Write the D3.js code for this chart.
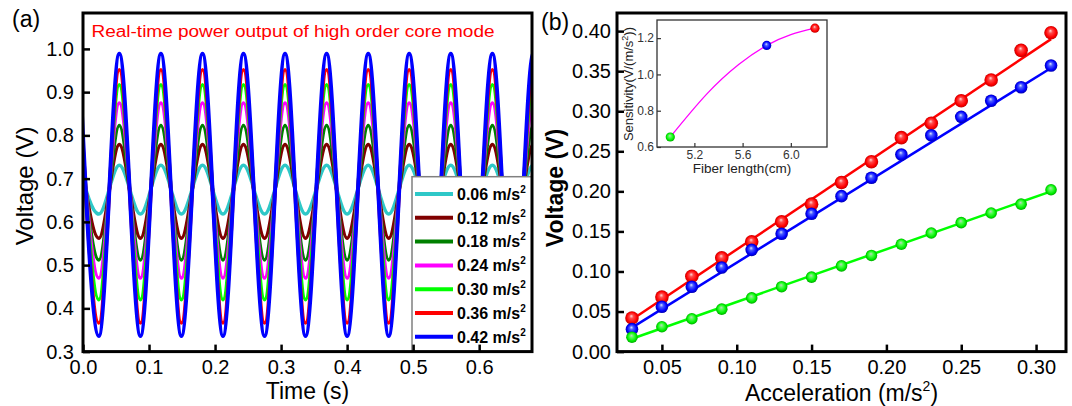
<!DOCTYPE html>
<html>
<head>
<meta charset="utf-8">
<script src="https://cdn.jsdelivr.net/npm/d3@7"></script>
<style>
  body { margin: 0; background: #fff; }
  svg { display: block; }
  text { font-family: "Liberation Sans", Arial, sans-serif; }
</style>
</head>
<body>
<script>
'use strict';

// ---- panel (a): real-time output (extrema of each trace)
const peakTimes   = [-0.006, 0.055, 0.118, 0.181, 0.243, 0.306, 0.369, 0.432, 0.494, 0.557, 0.620, 0.682];
const troughTimes = [0.024, 0.087, 0.149, 0.212, 0.275, 0.337, 0.400, 0.463, 0.526, 0.588, 0.651, 0.714];
const accelLabels = ["0.06", "0.12", "0.18", "0.24", "0.30", "0.36", "0.42"];
const peakVolt    = [0.731, 0.779, 0.823, 0.875, 0.917, 0.952, 0.989];
const troughVolt  = [0.618, 0.562, 0.512, 0.470, 0.420, 0.366, 0.336];
const timeTicks   = [0.0, 0.1, 0.2, 0.3, 0.4, 0.5, 0.6];
const voltTicksA  = [0.3, 0.4, 0.5, 0.6, 0.7, 0.8, 0.9, 1.0];

// ---- panel (b): voltage vs acceleration
const accel     = [0.03, 0.05, 0.07, 0.09, 0.11, 0.13, 0.15, 0.17, 0.19, 0.21, 0.23, 0.25, 0.27, 0.29, 0.31];
const voltRed   = [0.042, 0.068, 0.094, 0.117, 0.137, 0.162, 0.184, 0.211, 0.237, 0.267, 0.285, 0.313, 0.339, 0.376, 0.398];
const voltBlue  = [0.028, 0.056, 0.081, 0.105, 0.127, 0.147, 0.172, 0.194, 0.217, 0.246, 0.270, 0.293, 0.313, 0.330, 0.357];
const voltGreen = [0.018, 0.031, 0.041, 0.053, 0.067, 0.081, 0.093, 0.107, 0.120, 0.134, 0.148, 0.161, 0.173, 0.184, 0.202];
const fitRed    = [[0.03, 0.040], [0.31, 0.390]];
const fitBlue   = [[0.03, 0.030], [0.31, 0.354]];
const fitGreen  = [[0.03, 0.016], [0.31, 0.200]];
const accelTicks = [0.05, 0.10, 0.15, 0.20, 0.25, 0.30];
const voltTicksB = [0.00, 0.05, 0.10, 0.15, 0.20, 0.25, 0.30, 0.35, 0.40];

// ---- inset: sensitivity vs fiber length
const fiberLength = [5.0, 5.8, 6.2];
const sensitivity = [0.655, 1.16, 1.255];
const fitCurveX   = [5.0, 5.3, 5.57, 5.8, 6.0, 6.2];
const fitCurveY   = [0.655, 0.89, 1.056, 1.16, 1.22, 1.255];
const fiberTicks  = [5.2, 5.6, 6.0];
const sensTicks   = [0.6, 0.8, 1.0, 1.2];

const waveColors = ["#2ec8c8", "#800000", "#008000", "#ff00ff", "#00ff00", "#ff0000", "#0000ff"];

const svg = d3.select("body").append("svg")
    .attr("width", 1072)
    .attr("height", 406);

const defs = svg.append("defs");

function ballGradient(id, hi, mid, base, edge) {
    const g = defs.append("radialGradient").attr("id", id)
        .attr("cx", "50%").attr("cy", "50%").attr("r", "50%")
        .attr("fx", "45%").attr("fy", "35%");
    g.append("stop").attr("offset", "0%").attr("stop-color", hi);
    g.append("stop").attr("offset", "30%").attr("stop-color", mid);
    g.append("stop").attr("offset", "75%").attr("stop-color", base);
    g.append("stop").attr("offset", "100%").attr("stop-color", edge);
}
ballGradient("ballRed", "#ffd8d8", "#ff4a4a", "#ff0000", "#c00000");
ballGradient("ballBlue", "#dde4ff", "#4a5cff", "#0000ff", "#0000b0");
ballGradient("ballGreen", "#c8c8c8", "#55ff55", "#00ee00", "#00a800");

function styleAxis(g, size) {
    g.select(".domain").remove();
    g.selectAll(".tick line").attr("stroke", "#000").attr("stroke-width", 2.5);
    g.selectAll(".tick text").attr("font-size", size).attr("fill", "#000")
        .attr("font-family", "'Liberation Sans', Arial, sans-serif");
}

// ================= panel (a)
const A = {left: 83, right: 532, top: 13, bottom: 351.6};
const xA = d3.scaleLinear().domain([0, 0.68]).range([A.left, A.right]);
const yA = d3.scaleLinear().domain([0.3, 1.083]).range([A.bottom, A.top]);

defs.append("clipPath").attr("id", "clipA")
    .append("rect")
    .attr("x", A.left).attr("y", A.top)
    .attr("width", A.right - A.left).attr("height", A.bottom - A.top);

const waveLine = d3.line()
    .x(d => xA(d[0]))
    .y(d => yA(d[1]))
    .curve(d3.curveMonotoneX);

const waves = svg.append("g").attr("clip-path", "url(#clipA)");
accelLabels.forEach((lab, i) => {
    let pts = peakTimes.map(t => [t, peakVolt[i]])
        .concat(troughTimes.map(t => [t, troughVolt[i]]));
    pts.sort((a, b) => a[0] - b[0]);
    waves.append("path")
        .attr("d", waveLine(pts))
        .attr("fill", "none")
        .attr("stroke", waveColors[i])
        .attr("stroke-width", i == 6 ? 4 : 3.5);
});

// legend
const leg = svg.append("g");
leg.append("rect")
    .attr("x", 412).attr("y", 176.7)
    .attr("width", A.right - 412).attr("height", A.bottom - 176.7)
    .attr("fill", "#fff").attr("stroke", "#808080").attr("stroke-width", 1.5);
accelLabels.forEach((lab, i) => {
    const y = 194 + i * 23.8;
    leg.append("line")
        .attr("x1", 415).attr("x2", 453).attr("y1", y).attr("y2", y)
        .attr("stroke", waveColors[i]).attr("stroke-width", 4);
    const t = leg.append("text")
        .attr("x", 457).attr("y", y + 5.8)
        .attr("font-size", 16).attr("font-weight", "bold");
    t.append("tspan").text(lab + " m/s");
    t.append("tspan").attr("dy", -7).attr("font-size", 10).text("2");
});

svg.append("g")
    .attr("transform", "translate(0," + A.bottom + ")")
    .call(d3.axisBottom(xA).tickValues(timeTicks).tickFormat(d3.format(".1f"))
        .tickSizeInner(-7).tickSizeOuter(0).tickPadding(8))
    .call(g => styleAxis(g, 20));

svg.append("g")
    .attr("transform", "translate(" + A.left + ",0)")
    .call(d3.axisLeft(yA).tickValues(voltTicksA).tickFormat(d3.format(".1f"))
        .tickSizeInner(-7).tickSizeOuter(0).tickPadding(9))
    .call(g => styleAxis(g, 20));

svg.append("rect")
    .attr("x", A.left).attr("y", A.top)
    .attr("width", A.right - A.left).attr("height", A.bottom - A.top)
    .attr("fill", "none").attr("stroke", "#000").attr("stroke-width", 3);

svg.append("text")
    .attr("x", 91.5).attr("y", 36.5)
    .attr("font-family", "'DejaVu Sans', Verdana, sans-serif")
    .attr("font-size", 16).attr("fill", "#ff0000")
    .attr("textLength", 403).attr("lengthAdjust", "spacingAndGlyphs")
    .text("Real-time power output of high order core mode");

svg.append("text").attr("x", 12).attr("y", 27).attr("font-size", 23).text("(a)");

svg.append("text")
    .attr("transform", "translate(33,186) rotate(-90)")
    .attr("text-anchor", "middle").attr("font-size", 24)
    .text("Voltage (V)");

svg.append("text")
    .attr("x", (A.left + A.right) / 2).attr("y", 399)
    .attr("text-anchor", "middle").attr("font-size", 23)
    .text("Time (s)");

// ================= panel (b)
const B = {left: 617, right: 1066, top: 13, bottom: 351.6};
const xB = d3.scaleLinear().domain([0.02, 0.32]).range([B.left, B.right]);
const yB = d3.scaleLinear().domain([0, 0.4226]).range([B.bottom, B.top]);

const fitLine = d3.line().x(d => xB(d[0])).y(d => yB(d[1]));

const seriesB = [
    {v: voltRed, fit: fitRed, color: "#ff0000", grad: "ballRed", r: 6.8},
    {v: voltBlue, fit: fitBlue, color: "#0000ff", grad: "ballBlue", r: 6.3},
    {v: voltGreen, fit: fitGreen, color: "#00ff00", grad: "ballGreen", r: 5.8}
];

seriesB.forEach(s => {
    svg.append("path")
        .attr("d", fitLine(s.fit))
        .attr("fill", "none").attr("stroke", s.color).attr("stroke-width", 2.5);
});
seriesB.forEach(s => {
    svg.append("g").selectAll("circle")
        .data(accel.map((a, i) => [a, s.v[i]]))
        .enter().append("circle")
        .attr("cx", d => xB(d[0]))
        .attr("cy", d => yB(d[1]))
        .attr("r", s.r)
        .attr("fill", "url(#" + s.grad + ")");
});

svg.append("g")
    .attr("transform", "translate(0," + B.bottom + ")")
    .call(d3.axisBottom(xB).tickValues(accelTicks).tickFormat(d3.format(".2f"))
        .tickSizeInner(-7).tickSizeOuter(0).tickPadding(8))
    .call(g => styleAxis(g, 20));

svg.append("g")
    .attr("transform", "translate(" + B.left + ",0)")
    .call(d3.axisLeft(yB).tickValues(voltTicksB).tickFormat(d3.format(".2f"))
        .tickSizeInner(-7).tickSizeOuter(0).tickPadding(6))
    .call(g => styleAxis(g, 20));

svg.append("rect")
    .attr("x", B.left).attr("y", B.top)
    .attr("width", B.right - B.left).attr("height", B.bottom - B.top)
    .attr("fill", "none").attr("stroke", "#000").attr("stroke-width", 3);

svg.append("text").attr("x", 541).attr("y", 30).attr("font-size", 23).text("(b)");

svg.append("text")
    .attr("transform", "translate(563,188) rotate(-90)")
    .attr("text-anchor", "middle").attr("font-size", 23).attr("font-weight", "bold")
    .text("Voltage (V)");

const accTitle = svg.append("text")
    .attr("x", (B.left + B.right) / 2).attr("y", 401)
    .attr("text-anchor", "middle").attr("font-size", 23);
accTitle.append("tspan").text("Acceleration (m/s");
accTitle.append("tspan").attr("dy", -10).attr("font-size", 14).text("2");
accTitle.append("tspan").attr("dy", 10).text(")");

// ================= inset
const C = {left: 657, right: 827, top: 20, bottom: 147};
const xC = d3.scaleLinear().domain([4.89, 6.3]).range([C.left, C.right]);
const yC = d3.scaleLinear().domain([0.6, 1.3]).range([C.bottom, C.top]);

svg.append("rect")
    .attr("x", C.left).attr("y", C.top)
    .attr("width", C.right - C.left).attr("height", C.bottom - C.top)
    .attr("fill", "#fff");

const fitCurve = d3.line()
    .x((d, i) => xC(fitCurveX[i]))
    .y(d => yC(d))
    .curve(d3.curveNatural);
svg.append("path")
    .attr("d", fitCurve(fitCurveY))
    .attr("fill", "none").attr("stroke", "#ff00ff").attr("stroke-width", 1.3);

const insetGrad = ["ballGreen", "ballBlue", "ballRed"];
svg.append("g").selectAll("circle")
    .data(fiberLength)
    .enter().append("circle")
    .attr("cx", d => xC(d))
    .attr("cy", (d, i) => yC(sensitivity[i]))
    .attr("r", 4.6)
    .attr("fill", (d, i) => "url(#" + insetGrad[i] + ")");

function styleInset(g) {
    g.select(".domain").remove();
    g.selectAll(".tick line").attr("stroke", "#333").attr("stroke-width", 1.2);
    g.selectAll(".tick text").attr("font-size", 12).attr("fill", "#333")
        .attr("font-family", "'Liberation Sans', Arial, sans-serif");
}

svg.append("g")
    .attr("transform", "translate(0," + C.bottom + ")")
    .call(d3.axisBottom(xC).tickValues(fiberTicks).tickFormat(d3.format(".1f"))
        .tickSizeInner(-4).tickSizeOuter(0).tickPadding(3))
    .call(styleInset);

svg.append("g")
    .attr("transform", "translate(" + C.left + ",0)")
    .call(d3.axisLeft(yC).tickValues(sensTicks).tickFormat(d3.format(".1f"))
        .tickSizeInner(-4).tickSizeOuter(0).tickPadding(3))
    .call(styleInset);

svg.append("rect")
    .attr("x", C.left).attr("y", C.top)
    .attr("width", C.right - C.left).attr("height", C.bottom - C.top)
    .attr("fill", "none").attr("stroke", "#333").attr("stroke-width", 1.3);

svg.append("text")
    .attr("x", (C.left + C.right) / 2).attr("y", 173)
    .attr("text-anchor", "middle").attr("font-size", 13.5).attr("fill", "#222")
    .text("Fiber length(cm)");

const sensTitle = svg.append("text")
    .attr("transform", "translate(633,84) rotate(-90)")
    .attr("text-anchor", "middle").attr("font-size", 13).attr("fill", "#222");
sensTitle.append("tspan").text("Sensitivity(V/(m/s");
sensTitle.append("tspan").attr("dy", -5).attr("font-size", 9).text("2");
sensTitle.append("tspan").attr("dy", 5).text("))");
</script>
</body>
</html>
